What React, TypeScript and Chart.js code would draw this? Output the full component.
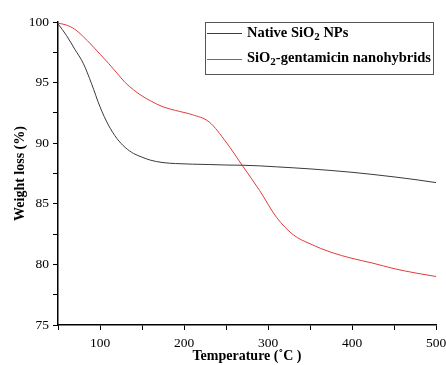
import React, { useEffect, useRef } from 'react';
import { Chart, registerables } from 'chart.js';

Chart.register(...registerables);

// ---- Data ----
const temperatures = [50, 60, 70, 80, 90, 100, 110, 120, 130, 140, 150, 160, 175, 190, 210, 230, 250, 270, 290, 310, 330, 350, 375, 400, 425, 450, 475, 500];
const nativeSiO2 = [99.85, 98.9, 97.75, 96.6, 94.9, 93.0, 91.5, 90.4, 89.65, 89.15, 88.85, 88.6, 88.4, 88.32, 88.27, 88.24, 88.2, 88.18, 88.13, 88.05, 87.97, 87.88, 87.75, 87.6, 87.42, 87.22, 87.0, 86.75];
const sio2Gentamicin = [99.9, 99.75, 99.4, 98.8, 98.1, 97.35, 96.6, 95.8, 95.0, 94.4, 93.9, 93.5, 93.0, 92.7, 92.35, 91.75, 90.1, 88.1, 86.1, 83.9, 82.45, 81.7, 81.0, 80.5, 80.1, 79.65, 79.3, 79.0];
const seriesLabels = ['Native SiO_2 NPs', 'SiO_2-gentamicin nanohybrids'];
const seriesColors = ['#3a3a3a', '#e23b3b'];
const xTitle = 'Temperature (˚C )';
const yTitle = 'Weight loss (%)';
const xMin = 50, xMax = 500, xStep = 50;
const yMin = 75, yMax = 100, yStep = 2.5;

const FONT = "'Liberation Serif', 'Times New Roman', serif";

function drawRich(ctx: CanvasRenderingContext2D, text: string, x: number, y: number, size: number) {
  const parts = text.split(/(_\d)/);
  let cx = x;
  for (const p of parts) {
    if (!p) continue;
    if (p.startsWith('_')) {
      ctx.font = `bold ${Math.round(size * 0.75)}px ${FONT}`;
      ctx.fillText(p.slice(1), cx, y + 4);
      cx += ctx.measureText(p.slice(1)).width;
    } else {
      ctx.font = `bold ${size}px ${FONT}`;
      ctx.fillText(p, cx, y);
      cx += ctx.measureText(p).width;
    }
  }
}

const legendPlugin = {
  id: 'boxLegend',
  afterDraw(chart: any) {
    const ctx = chart.ctx as CanvasRenderingContext2D;
    const area = chart.chartArea;
    const boxRight = area.right - 3;
    const boxLeft = boxRight - 228;
    const boxTop = area.top;
    const boxH = 52;
    ctx.save();
    ctx.strokeStyle = '#555';
    ctx.lineWidth = 1;
    ctx.strokeRect(Math.round(boxLeft) + 0.5, Math.round(boxTop) + 0.5, 228, boxH);
    chart.data.datasets.forEach((ds: any, i: number) => {
      const yy = boxTop + 11 + i * 25.5;
      ctx.strokeStyle = ds.borderColor;
      ctx.beginPath();
      ctx.moveTo(boxLeft + 2, Math.round(yy) + 0.5);
      ctx.lineTo(boxLeft + 37, Math.round(yy) + 0.5);
      ctx.stroke();
      ctx.fillStyle = '#000';
      ctx.textBaseline = 'middle';
      ctx.textAlign = 'left';
      drawRich(ctx, seriesLabels[i], boxLeft + 42, yy, 14.5);
    });
    ctx.restore();
  },
};

export default function App() {
  const ref = useRef<HTMLCanvasElement | null>(null);
  useEffect(() => {
    document.body.style.margin = '0';
    const canvas = ref.current!;
    const chart = new Chart(canvas, {
      type: 'line',
      data: {
        datasets: [
          {
            label: seriesLabels[0],
            data: temperatures.map((t, i) => ({ x: t, y: nativeSiO2[i] })),
            borderColor: seriesColors[0],
            borderWidth: 1,
            pointRadius: 0,
            cubicInterpolationMode: 'monotone',
          },
          {
            label: seriesLabels[1],
            data: temperatures.map((t, i) => ({ x: t, y: sio2Gentamicin[i] })),
            borderColor: seriesColors[1],
            borderWidth: 1,
            pointRadius: 0,
            cubicInterpolationMode: 'monotone',
          },
        ],
      },
      options: {
        animation: false,
        responsive: false,
        layout: { padding: { top: 22, right: 10, left: 0, bottom: 0 } },
        plugins: { legend: { display: false }, tooltip: { enabled: false } },
        scales: {
          x: {
            type: 'linear',
            min: xMin,
            max: xMax,
            afterFit: (s: any) => { s.height = 40; s.paddingRight = 0; s.paddingLeft = 0; },
            border: { display: true, color: '#000', width: 1.5 },
            grid: { display: true, drawOnChartArea: false, tickLength: 5, color: '#000', tickWidth: 1 },
            ticks: {
              stepSize: xStep,
              autoSkip: false,
              maxRotation: 0,
              padding: 5,
              color: '#000',
              font: { family: FONT, size: 13.5 },
              callback: (v: any) => (Number(v) % 100 === 0 ? String(v) : ''),
            },
            title: {
              display: true,
              text: xTitle,
              color: '#000',
              padding: { top: -4, bottom: 0 },
              font: { family: FONT, size: 14, weight: 'bold' },
            },
          },
          y: {
            type: 'linear',
            min: yMin,
            max: yMax,
            afterFit: (s: any) => { s.width = 58; s.paddingTop = 0; s.paddingBottom = 0; },
            border: { display: true, color: '#000', width: 1.5 },
            grid: { display: true, drawOnChartArea: false, tickLength: 5, color: '#000', tickWidth: 1 },
            ticks: {
              stepSize: yStep,
              autoSkip: false,
              padding: 4,
              color: '#000',
              font: { family: FONT, size: 13.5 },
              callback: (v: any) => (Number(v) % 5 === 0 ? String(v) : ''),
            },
            title: {
              display: true,
              text: yTitle,
              color: '#000',
              padding: { top: 12, bottom: 0 },
              font: { family: FONT, size: 14, weight: 'bold' },
            },
          },
        },
      },
      plugins: [legendPlugin],
    } as any);
    return () => chart.destroy();
  }, []);
  return <canvas ref={ref} width={446} height={365} style={{ display: 'block' }} />;
}
